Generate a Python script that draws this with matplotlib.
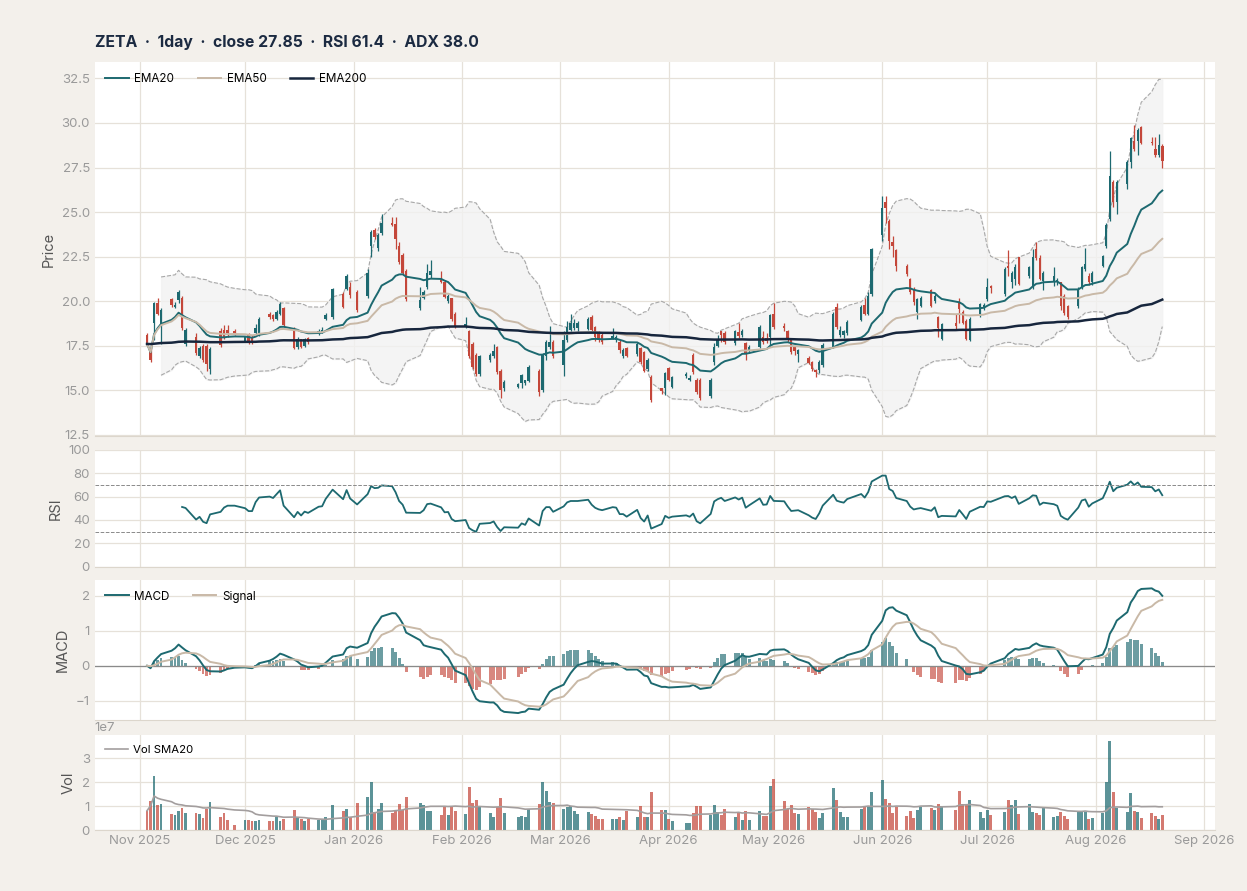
import numpy as np
import pandas as pd
import matplotlib
matplotlib.use("Agg")
import matplotlib.pyplot as plt
import matplotlib.dates as mdates

plt.rcParams['font.family'] = ['Inter', 'DejaVu Sans']

# ---- data, one row per trading week ----
holidays = ["2025-11-27", "2025-12-25", "2026-01-01", "2026-01-19", "2026-02-16",
            "2026-04-03", "2026-05-25", "2026-06-19", "2026-07-03"]

opens = [
    18.1, 17.3, 18.8, 19.9, 18.7,   20.1, 19.7, 20.05, 20.2, 17.6,   18.0, 16.9, 17.5, 17.5, 16.2,
    18.3, 18.4, 18.4, 18.35,        17.78, 18.1, 18.0, 18.2, 18.2,   19.3, 19.2, 19.0, 19.3, 19.6,
    18.5, 17.4, 17.85, 17.5, 17.95, 18.2, 18.25, 19.0, 19.1,         20.4, 20.7, 20.8, 20.5,
    20.3, 23.1, 24.0, 23.0, 23.8,   24.4, 24.35, 23.1, 22.6, 21.7,   19.6, 20.2, 20.8, 21.45,
    21.3, 21.1, 20.0, 20.15, 19.3,  18.55, 18.35, 17.6, 17.0, 15.9,  16.7, 16.9, 17.4, 16.1, 15.1,
    15.2, 15.4, 15.4, 15.5,         16.1, 15.0, 16.9, 17.4, 17.7,    16.4, 17.8, 18.4, 18.5, 18.5,
    18.45, 19.1, 18.55, 18.2, 18.1, 17.95, 17.8, 17.7, 16.9, 17.35,  17.05, 17.35, 17.15, 16.2, 15.75,
    15.1, 15.1, 16.25, 15.2,        15.8, 15.6, 17.0, 15.6, 15.6,    14.65, 16.6, 17.5, 18.3, 18.2,
    17.65, 18.25, 18.1, 17.65, 17.2, 17.45, 18.0, 17.95, 18.0, 19.3, 18.6, 18.35, 17.8, 17.4, 17.05,
    16.8, 16.6, 16.15, 16.15, 16.4, 17.45, 19.7, 18.1, 18.1, 18.2,   18.95, 19.8, 19.3, 20.4,
    23.7, 25.55, 24.5, 23.3, 22.85, 22.0, 21.25, 20.7, 19.4, 19.75,  20.6, 20.0, 19.1, 17.9,
    18.8, 19.9, 19.4, 18.9, 17.8,   19.3, 19.6, 20.1, 20.85,         20.4, 22.0, 21.05, 21.25, 22.45,
    21.4, 20.8, 22.95, 22.4, 21.15, 21.05, 21.1, 21.05, 20.3, 19.75, 19.75, 20.8, 21.8, 21.4, 21.05,
    22.0, 23.1, 24.6, 26.7, 25.55,  26.6, 27.8, 29.0, 29.0, 29.8,    28.95, 28.55, 28.2, 28.7,
]
highs = [
    18.2, 17.4, 19.95, 20.2, 19.6,  20.2, 19.95, 20.6, 20.3, 18.5,   18.2, 17.5, 17.6, 17.6, 17.4,
    18.5, 18.65, 18.65, 18.45,      18.05, 18.2, 18.1, 18.7, 19.1,   19.4, 19.3, 19.5, 19.95, 19.7,
    18.55, 18.0, 17.9, 17.95, 18.0, 18.45, 18.55, 19.35, 20.75,      20.5, 21.5, 21.1, 20.6,
    21.8, 24.0, 24.1, 23.8, 24.9,   24.7, 24.7, 23.3, 22.7, 21.8,    20.8, 20.6, 22.1, 22.3,
    21.7, 21.2, 20.4, 20.2, 19.4,   19.1, 18.4, 17.7, 17.1, 17.0,    17.1, 17.6, 17.5, 16.2, 15.6,
    15.4, 15.9, 15.6, 16.4,         16.2, 17.1, 17.8, 18.6, 17.8,    18.3, 18.9, 19.3, 19.0, 18.9,
    19.1, 19.2, 18.6, 18.3, 18.2,   18.5, 18.1, 17.8, 17.35, 17.4,   17.7, 17.45, 17.2, 16.8, 15.85,
    15.15, 16.0, 16.3, 15.8,        16.05, 15.85, 17.1, 15.7, 15.7,  15.7, 17.65, 18.1, 18.35, 18.35,
    18.4, 18.75, 18.45, 17.7, 17.55, 18.65, 18.3, 18.2, 19.3, 19.9,  18.8, 18.4, 17.85, 17.45, 17.3,
    16.9, 16.65, 16.2, 16.7, 17.65, 19.4, 19.9, 18.6, 18.4, 18.95,   19.8, 20.2, 20.5, 23.0,
    25.9, 25.9, 24.6, 23.65, 22.9,  22.1, 21.3, 20.8, 20.2, 20.3,    20.7, 20.4, 19.15, 18.8,
    19.3, 20.2, 19.5, 19.0, 19.1,   19.9, 19.9, 21.3, 20.9,          21.9, 22.85, 21.7, 22.1, 22.5,
    22.0, 22.9, 23.3, 22.6, 21.7,   21.9, 21.3, 21.1, 20.4, 19.8,    20.8, 22.0, 23.0, 21.6, 21.7,
    22.6, 24.4, 28.45, 26.8, 26.8,  27.9, 29.2, 29.9, 29.7, 29.85,   29.2, 29.2, 29.4, 28.8,
]
lows = [
    17.5, 16.6, 17.8, 19.2, 17.6,   19.7, 19.6, 19.9, 18.4, 17.5,    17.0, 16.8, 16.6, 16.1, 15.9,
    17.4, 17.9, 18.0, 18.1,         17.7, 17.6, 17.6, 18.1, 18.05,   19.0, 18.9, 18.95, 19.2, 18.6,
    17.3, 17.3, 17.35, 17.45, 17.6, 18.1, 18.2, 18.95, 19.0,         19.6, 20.6, 20.2, 19.4,
    20.2, 22.5, 23.5, 22.8, 23.7,   24.2, 22.9, 22.1, 21.5, 20.0,    19.5, 20.1, 20.7, 21.3,
    21.0, 20.2, 19.9, 18.9, 18.5,   18.5, 16.8, 16.2, 15.8, 15.8,    16.6, 16.8, 15.9, 14.55, 14.95,
    15.1, 15.1, 15.3, 15.45,        14.7, 14.9, 16.7, 17.3, 16.8,    15.8, 17.7, 18.3, 18.4, 18.3,
    18.4, 18.3, 17.75, 17.7, 17.6,  17.9, 17.7, 17.1, 16.8, 16.85,   16.95, 16.5, 16.0, 16.1, 14.35,
    14.8, 14.75, 15.5, 15.1,        15.7, 15.5, 15.9, 14.8, 14.45,   14.55, 16.4, 17.4, 17.7, 17.6,
    17.55, 17.95, 18.0, 16.7, 17.1, 17.35, 17.6, 17.65, 17.45, 18.45, 18.3, 17.7, 17.05, 17.0, 16.6,
    16.45, 16.1, 15.75, 15.95, 16.3, 17.35, 18.45, 18.0, 17.95, 18.1, 18.9, 19.2, 19.2, 20.3,
    23.4, 24.4, 22.9, 22.5, 21.7,   21.4, 20.4, 19.8, 19.0, 19.65,   19.7, 19.9, 18.0, 17.8,
    18.4, 18.8, 18.7, 17.8, 17.75,  19.1, 19.5, 20.0, 20.45,         20.3, 21.4, 20.75, 20.9, 20.9,
    21.3, 20.7, 22.3, 21.2, 20.6,   20.85, 20.9, 19.5, 19.2, 19.0,   19.6, 20.7, 21.7, 20.9, 20.9,
    21.9, 23.0, 24.5, 25.3, 24.9,   26.3, 27.5, 28.4, 28.2, 28.8,    28.75, 28.1, 28.1, 27.5,
]
closes = [
    17.6, 16.7, 19.9, 19.3, 19.5,   19.8, 19.8, 20.5, 18.5, 18.4,    17.1, 17.35, 16.7, 16.5, 17.3,
    17.55, 18.0, 18.2, 18.2,        17.97, 17.7, 17.7, 18.5, 19.0,   19.1, 19.0, 19.4, 19.85, 18.65,
    17.35, 17.9, 17.45, 17.85, 17.7, 18.35, 18.4, 19.25, 20.7,       19.7, 21.4, 20.35, 19.5,
    21.6, 23.9, 23.6, 23.7, 24.4,   24.3, 23.5, 22.2, 21.6, 20.1,    20.05, 20.5, 21.6, 21.7,
    21.1, 20.25, 20.3, 19.0, 18.55, 18.7, 16.9, 16.3, 15.9, 16.9,    17.0, 17.2, 16.0, 15.0, 15.45,
    15.35, 15.85, 15.55, 16.3,      14.9, 17.0, 17.7, 17.7, 16.9,    17.8, 18.55, 18.8, 18.8, 18.8,
    19.0, 18.4, 18.0, 17.8, 17.7,   18.05, 18.0, 17.25, 17.25, 16.95, 17.6, 16.6, 16.1, 16.7, 14.45,
    14.95, 15.95, 15.6, 15.75,      15.9, 15.7, 16.05, 14.9, 14.55,  15.6, 17.45, 17.85, 18.1, 17.7,
    18.3, 18.05, 18.35, 17.1, 17.45, 18.55, 17.7, 17.75, 19.2, 18.55, 18.5, 17.8, 17.15, 17.2, 17.25,
    16.55, 16.2, 16.0, 16.6, 17.55, 19.3, 18.55, 18.4, 18.3, 18.85,  19.7, 19.3, 20.3, 22.95,
    25.2, 25.2, 23.4, 23.1, 22.0,   21.5, 20.5, 19.95, 20.1, 20.2,   19.75, 20.3, 18.5, 18.7,
    18.6, 19.55, 18.8, 17.9, 19.0,  19.85, 19.8, 20.8, 20.75,        21.8, 21.85, 21.6, 21.9, 20.95,
    21.9, 22.45, 22.4, 21.25, 21.6, 21.4, 21.2, 19.75, 19.35, 19.1,  20.7, 21.9, 22.1, 21.05, 21.6,
    22.55, 24.25, 27.05, 25.55, 26.7, 27.8, 29.15, 28.55, 29.6, 28.9, 28.85, 28.2, 28.75, 27.85,
]
# volume in units of 1e7
volumes = [
    0.82, 1.22, 2.24, 1.06, 1.10,   0.69, 0.63, 0.82, 0.92, 0.71,    0.71, 0.68, 0.51, 0.89, 1.18,
    0.54, 0.71, 0.44, 0.24,         0.45, 0.45, 0.40, 0.38, 0.42,    0.39, 0.39, 0.57, 0.39, 0.47,
    0.85, 0.57, 0.47, 0.39, 0.47,   0.42, 0.44, 0.57, 1.06,          0.82, 0.89, 0.56, 1.15,
    1.40, 2.00, 0.78, 0.89, 1.12,   0.72, 0.82, 1.10, 0.85, 1.39,    1.15, 1.06, 0.82, 0.82,
    0.65, 1.00, 0.65, 1.00, 0.80,   0.68, 1.79, 1.12, 1.28, 0.99,    0.71, 0.57, 0.96, 1.36, 0.71,
    0.54, 0.61, 0.54, 0.88,         1.08, 2.00, 1.65, 1.18, 1.12,    0.88, 0.96, 1.03, 0.81, 0.69,
    0.78, 0.68, 0.58, 0.47, 0.47,   0.47, 0.47, 0.54, 0.44, 0.82,    0.57, 1.03, 0.54, 0.54, 1.60,
    0.85, 0.85, 0.47, 0.40,         0.31, 0.31, 0.71, 1.03, 1.03,    0.65, 1.06, 0.78, 0.65, 0.88,
    0.54, 0.75, 0.44, 0.82, 0.44,   0.82, 0.58, 0.61, 1.86, 2.12,    1.22, 0.88, 1.06, 0.72, 0.68,
    0.97, 0.88, 0.75, 0.51, 0.72,   1.75, 1.26, 0.78, 0.57, 0.57,    0.89, 0.97, 0.99, 1.58,
    2.10, 1.32, 1.15, 0.72, 0.99,   0.61, 0.82, 0.51, 0.85, 0.99,    0.94, 0.85, 1.10, 1.01,
    0.85, 1.65, 1.08, 1.08, 1.25,   0.78, 0.50, 0.85, 0.64,          0.78, 1.25, 1.06, 1.28, 0.68,
    1.08, 0.78, 0.72, 0.64, 0.94,   0.57, 0.60, 0.75, 0.61, 0.47,    0.81, 0.75, 0.78, 0.47, 0.50,
    0.72, 2.00, 3.71, 1.60, 0.94,   0.75, 1.56, 0.81, 0.78, 0.50,    0.72, 0.61, 0.47, 0.64,
]

dates = pd.bdate_range("2025-11-03", "2026-08-20")
dates = dates[~dates.isin(pd.to_datetime(holidays))]

df = pd.DataFrame({"open": opens, "high": highs, "low": lows, "close": closes,
                   "volume": np.array(volumes) * 1e7}, index=dates)

# ---- indicators ----
c = df["close"]
ema20 = c.ewm(span=20).mean()
ema50 = c.ewm(span=50).mean()
ema200 = c.ewm(span=200, adjust=False).mean()
mid = c.rolling(20, min_periods=5).mean()
sd = c.rolling(20, min_periods=5).std()
bb_up = mid + 2 * sd
bb_lo = mid - 2 * sd

delta = c.diff()
gain = delta.clip(lower=0).ewm(alpha=1 / 14, min_periods=8).mean()
loss = (-delta.clip(upper=0)).ewm(alpha=1 / 14, min_periods=8).mean()
rsi = 100 - 100 / (1 + gain / loss)

macd = c.ewm(span=12, adjust=False).mean() - c.ewm(span=26, adjust=False).mean()
signal = macd.ewm(span=9, adjust=False).mean()
hist = macd - signal
vol_sma = df["volume"].rolling(20, min_periods=1).mean()

# ---- styling ----
BG = "#f3f0eb"
GRID = "#e6e1d9"
TEAL = "#1d6970"
RED = "#c4473a"
BEIGE = "#c9b9a7"
NAVY = "#17263d"
TICK = "#9a9a9a"

fig = plt.figure(figsize=(12.47, 8.91), dpi=100, facecolor=BG)
L, W = 0.076, 0.898
ax_p = fig.add_axes([L, 0.511, W, 0.419])
ax_r = fig.add_axes([L, 0.364, W, 0.131], sharex=ax_p)
ax_m = fig.add_axes([L, 0.192, W, 0.157], sharex=ax_p)
ax_v = fig.add_axes([L, 0.068, W, 0.107], sharex=ax_p)

for ax in (ax_p, ax_r, ax_m, ax_v):
    ax.set_facecolor("white")
    ax.grid(True, color=GRID, linewidth=0.9)
    ax.set_axisbelow(True)
    for s in ax.spines.values():
        s.set_visible(False)
    ax.spines["bottom"].set_visible(True)
    ax.spines["bottom"].set_color("#dcd6cc")
    ax.tick_params(colors=TICK, labelsize=9.5, length=0)
    ax.yaxis.label.set_color("#555555")

x = mdates.date2num(df.index.to_pydatetime())
up = df["close"] >= df["open"]
colors = np.where(up, TEAL, RED)
leg_kw = dict(loc="upper left", frameon=False, fontsize=8.4, handlelength=2.0,
              handletextpad=0.5, columnspacing=2.0, borderaxespad=0.5)

# price panel
ax_p.fill_between(x, bb_lo, bb_up, color="#f2f2f2", alpha=0.8, zorder=1)
ax_p.plot(x, bb_up, color="#a8a8a8", lw=0.8, ls="--", zorder=2)
ax_p.plot(x, bb_lo, color="#a8a8a8", lw=0.8, ls="--", zorder=2)
ax_p.vlines(x, df["low"], df["high"], colors=colors, lw=0.9, zorder=3)
body_lo = np.minimum(df["open"], df["close"])
body_h = np.maximum(np.abs(df["close"] - df["open"]), 0.05)
ax_p.bar(x, body_h, bottom=body_lo, width=0.7, color=colors, zorder=4)
ax_p.plot(x, ema20, color=TEAL, lw=1.4, label="EMA20", zorder=5)
ax_p.plot(x, ema50, color=BEIGE, lw=1.4, label="EMA50", zorder=5)
ax_p.plot(x, ema200, color=NAVY, lw=1.8, label="EMA200", zorder=5)
ax_p.set_ylim(12.45, 33.4)
ax_p.set_yticks(np.arange(12.5, 33, 2.5))
ax_p.set_ylabel("Price", fontsize=10.5)
ax_p.legend(ncol=3, **leg_kw)

# RSI panel
ax_r.plot(x, rsi, color=TEAL, lw=1.3)
ax_r.axhline(70, color="#8a8a8a", lw=0.7, ls="--")
ax_r.axhline(30, color="#8a8a8a", lw=0.7, ls="--")
ax_r.set_ylim(0, 100)
ax_r.set_yticks([0, 20, 40, 60, 80, 100])
ax_r.set_ylabel("RSI", fontsize=10.5)

# MACD panel
ax_m.bar(x, hist, width=0.8, color=np.where(hist >= 0, TEAL, RED), alpha=0.65, zorder=2)
ax_m.axhline(0, color="#8a8a8a", lw=0.9, zorder=3)
ax_m.plot(x, macd, color=TEAL, lw=1.4, label="MACD", zorder=4)
ax_m.plot(x, signal, color=BEIGE, lw=1.4, label="Signal", zorder=4)
ax_m.set_ylim(-1.55, 2.45)
ax_m.set_yticks([-1, 0, 1, 2])
ax_m.set_ylabel("MACD", fontsize=10.5)
ax_m.legend(ncol=2, **leg_kw)

# volume panel
ax_v.bar(x, df["volume"], width=0.8, color=colors, alpha=0.72, zorder=2)
ax_v.plot(x, vol_sma, color="#a39e9e", lw=1.2, label="Vol SMA20", zorder=3)
ax_v.set_ylim(0, 3.95e7)
ax_v.set_yticks([0, 1e7, 2e7, 3e7])
ax_v.set_ylabel("Vol", fontsize=10.5)
ax_v.legend(**dict(leg_kw, fontsize=8.2))
ax_v.yaxis.get_offset_text().set_color(TICK)
ax_v.yaxis.get_offset_text().set_fontsize(9.5)

ax_v.xaxis.set_major_locator(mdates.MonthLocator())
ax_v.xaxis.set_major_formatter(mdates.DateFormatter("%b %Y"))
for ax in (ax_p, ax_r, ax_m):
    plt.setp(ax.get_xticklabels(), visible=False)

fig.text(L, 0.952, "ZETA  ·  1day  ·  close 27.85  ·  RSI 61.4  ·  ADX 38.0",
         fontsize=11.3, fontweight="bold", color="#1b2a41", ha="left", va="center")

fig.savefig("out.png", dpi=100, facecolor=BG)
